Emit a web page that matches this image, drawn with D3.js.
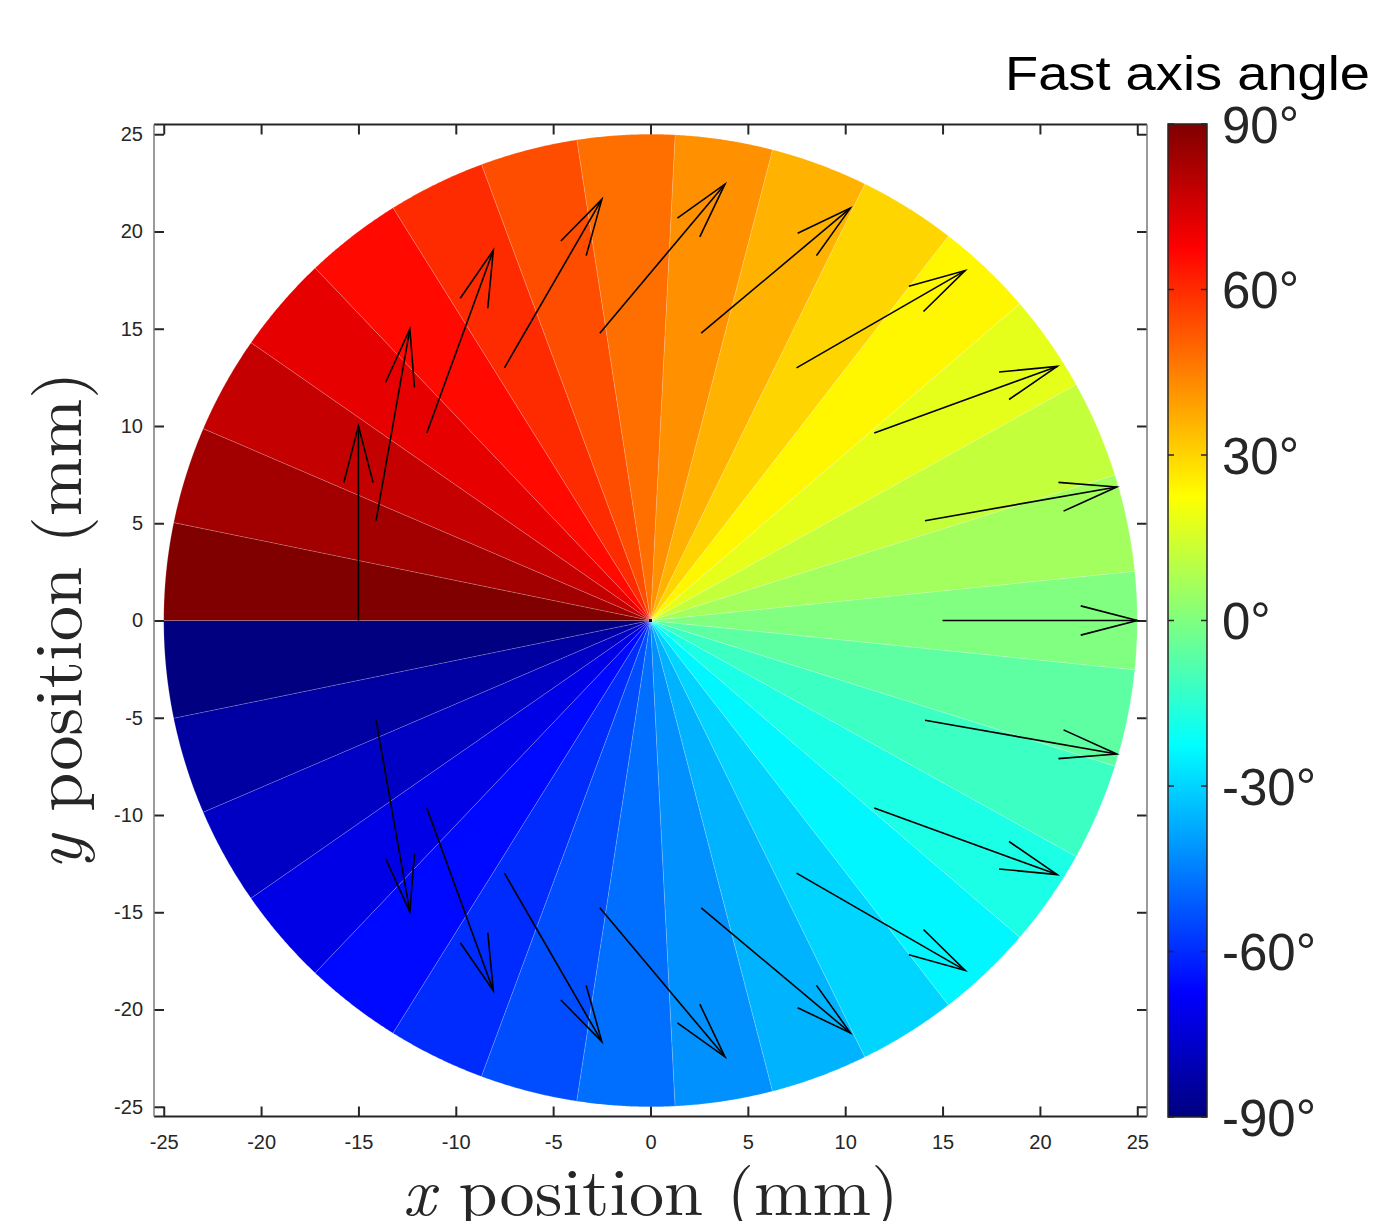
<!DOCTYPE html>
<html>
<head>
<meta charset="utf-8">
<title>Fast axis angle</title>
<script src="https://d3js.org/d3.v7.min.js"></script>
<style>
  body { margin: 0; background: #fff; }
  svg { display: block; font-family: "Liberation Sans", Arial, Helvetica, sans-serif; }
  .tick text { fill: #262626; }
  .tick line { stroke: #262626; stroke-width: 2; }
</style>
</head>
<body>
<div id="chart"></div>
<script>
// wedge boundaries in degrees (counter-clockwise from +x) and the angle shown by each wedge
const wedgeEdges = [-180, -168.39, -156.77, -145.16, -133.55, -121.94, -110.32, -98.71,
  -87.10, -75.48, -63.87, -52.26, -40.65, -29.03, -17.42, -5.81, 5.81, 17.42, 29.03,
  40.65, 52.26, 63.87, 75.48, 87.10, 98.71, 110.32, 121.94, 133.55, 145.16, 156.77,
  168.39, 180];
const wedgeValues = [-90, -84, -78, -72, -66, -60, -54, -48, -42, -36, -30, -24, -18,
  -12, -6, 0, 6, 12, 18, 24, 30, 36, 42, 48, 54, 60, 66, 72, 78, 84, 90];

// quiver arrows: polar position of the tail (deg) and fast axis direction (deg)
const arrowPos = [0, 20, 40, 60, 80, 100, 120, 140, 160, 180, 200, 220, 240, 260, 280, 300, 320, 340];
const arrowDir = [0, 10, 20, 30, 40, 50, 60, 70, 80, 90, -80, -70, -60, -50, -40, -30, -20, -10];
const arrowR = 15, arrowLen = 10, diskR = 25;

const xTicks = [-25, -20, -15, -10, -5, 0, 5, 10, 15, 20, 25];
const yTicks = [-25, -20, -15, -10, -5, 0, 5, 10, 15, 20, 25];
const cbTicks = [-90, -60, -30, 0, 30, 60, 90];

const W = 1380, H = 1221;
const pLeft = 154, pRight = 1147, pTop = 124.5, pBottom = 1116.5;

const svg = d3.select("#chart").append("svg")
  .attr("width", W).attr("height", H);

const x = d3.scaleLinear().domain([-25.5, 25.5]).range([pLeft, pRight]);
const y = d3.scaleLinear().domain([-25.5, 25.5]).range([pBottom, pTop]);

// MATLAB jet
const jet = d3.scaleLinear()
  .domain([-90, -67.5, -22.5, 22.5, 67.5, 90])
  .range(["#000080", "#0000ff", "#00ffff", "#ffff00", "#ff0000", "#800000"]);

const rad = d => d * Math.PI / 180;

function wedgePath(a0, a1) {
  const pts = [[x(0), y(0)]];
  const n = Math.ceil((a1 - a0) / 0.25);
  for (let i = 0; i <= n; i++) {
    const t = rad(a0 + (a1 - a0) * i / n);
    pts.push([x(diskR * Math.cos(t)), y(diskR * Math.sin(t))]);
  }
  return d3.line()(pts) + "Z";
}

// disk wedges
svg.append("g").selectAll("path")
  .data(wedgeValues)
  .join("path")
  .attr("d", (v, i) => wedgePath(wedgeEdges[i], wedgeEdges[i + 1]))
  .attr("fill", v => jet(v))
  .attr("stroke", "rgba(255,255,255,0.28)")
  .attr("stroke-width", 0.6);

// axes, ticks pointing inwards
const fmt = d => String(d);
svg.append("g").attr("transform", `translate(0,${pBottom})`)
  .call(d3.axisBottom(x).tickValues(xTicks).tickSize(-10).tickPadding(18).tickFormat(fmt))
  .call(g => g.selectAll("text").attr("font-size", 20));
svg.append("g").attr("transform", `translate(0,${pTop})`)
  .call(d3.axisTop(x).tickValues(xTicks).tickSize(-10).tickFormat(""));
svg.append("g").attr("transform", `translate(${pLeft},0)`)
  .call(d3.axisLeft(y).tickValues(yTicks).tickSize(-10).tickPadding(11).tickFormat(fmt))
  .call(g => g.selectAll("text").attr("font-size", 20));
svg.append("g").attr("transform", `translate(${pRight},0)`)
  .call(d3.axisRight(y).tickValues(yTicks).tickSize(-10).tickFormat(""));
svg.selectAll(".domain").remove();

// box
svg.append("line").attr("x1", pLeft).attr("x2", pRight).attr("y1", pTop).attr("y2", pTop)
  .attr("stroke", "#262626").attr("stroke-width", 2);
svg.append("line").attr("x1", pLeft).attr("x2", pRight).attr("y1", pBottom).attr("y2", pBottom)
  .attr("stroke", "#262626").attr("stroke-width", 2);
svg.append("line").attr("x1", pLeft).attr("x2", pLeft).attr("y1", pTop).attr("y2", pBottom)
  .attr("stroke", "#7a7a7a").attr("stroke-width", 1.5);
svg.append("line").attr("x1", pRight).attr("x2", pRight).attr("y1", pTop).attr("y2", pBottom)
  .attr("stroke", "#7a7a7a").attr("stroke-width", 1.5);

// arrows
const ag = svg.append("g").attr("stroke", "#000").attr("stroke-width", 1.6)
  .attr("fill", "none").attr("stroke-linecap", "butt");
arrowPos.forEach((p, i) => {
  const d = rad(arrowDir[i]);
  const x0 = arrowR * Math.cos(rad(p)), y0 = arrowR * Math.sin(rad(p));
  const x1 = x0 + arrowLen * Math.cos(d), y1 = y0 + arrowLen * Math.sin(d);
  const hl = 0.3 * arrowLen, ha = rad(14.5);
  ag.append("line").attr("x1", x(x0)).attr("y1", y(y0)).attr("x2", x(x1)).attr("y2", y(y1));
  ag.append("path").attr("d", d3.line()([
    [x(x1 - hl * Math.cos(d + ha)), y(y1 - hl * Math.sin(d + ha))],
    [x(x1), y(y1)],
    [x(x1 - hl * Math.cos(d - ha)), y(y1 - hl * Math.sin(d - ha))]
  ]));
});

// centre marker
svg.append("rect").attr("x", x(0) - 1.5).attr("y", y(0) - 1.5)
  .attr("width", 3).attr("height", 3).attr("fill", "#000");

// axis labels
const xl = svg.append("text")
  .attr("transform", `translate(${x(0)},1215) scale(1.05,1)`)
  .attr("text-anchor", "middle")
  .attr("font-family", "'Latin Modern Roman','CMU Serif','Liberation Serif','Times New Roman',serif")
  .attr("font-size", 67).attr("fill", "#262626");
xl.append("tspan").attr("font-style", "italic").text("x");
xl.append("tspan").text(" position (mm)");

const yl = svg.append("text")
  .attr("transform", `translate(81,${y(0)}) rotate(-90) scale(1.05,1)`)
  .attr("text-anchor", "middle")
  .attr("font-family", "'Latin Modern Roman','CMU Serif','Liberation Serif','Times New Roman',serif")
  .attr("font-size", 67).attr("fill", "#262626");
yl.append("tspan").attr("font-style", "italic").text("y");
yl.append("tspan").text(" position (mm)");

// colorbar
const cbLeft = 1168, cbW = 39;
const cy = d3.scaleLinear().domain([-90, 90]).range([1117, 124]);
const grad = svg.append("defs").append("linearGradient")
  .attr("id", "jet").attr("x1", 0).attr("y1", 1).attr("x2", 0).attr("y2", 0);
jet.domain().forEach(v => {
  grad.append("stop").attr("offset", (v + 90) / 180).attr("stop-color", jet(v));
});
svg.append("rect").attr("x", cbLeft).attr("y", cy(90))
  .attr("width", cbW).attr("height", cy(-90) - cy(90))
  .attr("fill", "url(#jet)").attr("stroke", "#262626").attr("stroke-width", 1.5);

const cbt = svg.append("g");
cbTicks.forEach(t => {
  cbt.append("line").attr("x1", cbLeft).attr("x2", cbLeft + 6)
    .attr("y1", cy(t)).attr("y2", cy(t)).attr("stroke", "#262626").attr("stroke-width", 1.5);
  cbt.append("line").attr("x1", cbLeft + cbW - 6).attr("x2", cbLeft + cbW)
    .attr("y1", cy(t)).attr("y2", cy(t)).attr("stroke", "#262626").attr("stroke-width", 1.5);
  cbt.append("text").attr("x", 1222).attr("y", cy(t)).attr("dy", "0.37em")
    .attr("font-size", 51).attr("fill", "#262626").text(t + "°");
});

svg.append("text").attr("x", 1005).attr("y", 90)
  .attr("font-size", 49).attr("fill", "#000")
  .attr("textLength", 365).attr("lengthAdjust", "spacingAndGlyphs")
  .text("Fast axis angle");
</script>
</body>
</html>
